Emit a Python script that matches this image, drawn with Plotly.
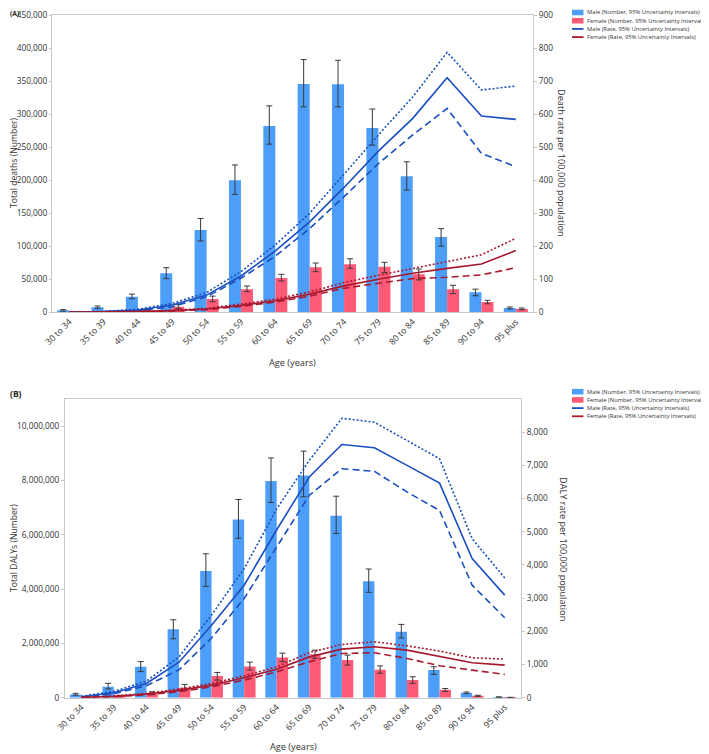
import plotly.graph_objects as go
from plotly.subplots import make_subplots

ages = ["30 to 34", "35 to 39", "40 to 44", "45 to 49", "50 to 54", "55 to 59", "60 to 64",
        "65 to 69", "70 to 74", "75 to 79", "80 to 84", "85 to 89", "90 to 94", "95 plus"]

# ---------- Panel A: deaths ----------
deaths_male = [3000, 7500, 23700, 59000, 124500, 199800, 282000, 345500, 345000, 279000, 206000, 114000, 30300, 6500]
deaths_male_hi = [4000, 9500, 27500, 67500, 142000, 223000, 312500, 382500, 381500, 307700, 227800, 126700, 35000, 8000]
deaths_male_lo = [1800, 6000, 20500, 51000, 108000, 178500, 254500, 311000, 311000, 253000, 185000, 100000, 25000, 5000]
deaths_female = [500, 1200, 3500, 8500, 20000, 34800, 52000, 68000, 72600, 69000, 57500, 34800, 15600, 5000]
deaths_female_hi = [800, 1800, 4500, 11600, 24500, 39800, 57500, 74600, 81000, 75600, 65500, 40800, 18200, 6500]
deaths_female_lo = [300, 800, 2500, 6000, 16000, 31200, 47400, 61500, 66600, 60000, 49000, 28200, 12900, 4000]

drate_male = [0.5, 2, 7, 22, 52, 110, 186, 274, 378, 488, 587, 710, 594, 584]
drate_male_hi = [0.6, 2.5, 9, 27, 60, 123, 204, 300, 418, 537, 652, 787, 673, 685]
drate_male_lo = [0.4, 1.5, 5, 17, 47, 103, 170, 254, 350, 450, 537, 617, 481, 441]
drate_female = [0.2, 0.6, 2, 5, 10, 21, 35, 55, 80, 100, 118, 133, 146, 187]
drate_female_hi = [0.3, 0.8, 2.5, 6, 12, 25, 40, 62, 90, 112, 133, 153, 174, 224]
drate_female_lo = [0.15, 0.4, 1.5, 4, 8, 18, 31, 49, 73, 88, 102, 106, 113, 135]

# ---------- Panel B: DALYs ----------
dalys_male = [120000, 400000, 1140000, 2520000, 4670000, 6560000, 7980000, 8180000, 6700000, 4290000, 2430000, 1020000, 180000, 20000]
dalys_male_hi = [160000, 530000, 1330000, 2870000, 5300000, 7300000, 8830000, 9080000, 7420000, 4740000, 2700000, 1140000, 210000, 30000]
dalys_male_lo = [90000, 320000, 960000, 2170000, 4100000, 5870000, 7190000, 7400000, 6050000, 3880000, 2200000, 860000, 150000, 15000]
dalys_female = [20000, 60000, 160000, 370000, 800000, 1150000, 1480000, 1600000, 1390000, 1030000, 650000, 290000, 70000, 10000]
dalys_female_hi = [30000, 90000, 220000, 490000, 930000, 1310000, 1640000, 1750000, 1570000, 1170000, 770000, 340000, 90000, 15000]
dalys_female_lo = [10000, 40000, 110000, 270000, 650000, 1020000, 1330000, 1450000, 1200000, 900000, 530000, 230000, 50000, 5000]

drb_male = [30, 150, 430, 1070, 2185, 3390, 5060, 6650, 7630, 7530, 7000, 6466, 4190, 3090]
drb_male_hi = [40, 190, 500, 1230, 2490, 3890, 5690, 7150, 8420, 8300, 7750, 7200, 4790, 3610]
drb_male_lo = [20, 120, 360, 840, 1800, 2990, 4540, 6100, 6900, 6820, 6200, 5640, 3390, 2410]
drb_female = [8, 40, 110, 220, 380, 600, 860, 1230, 1464, 1534, 1434, 1233, 1053, 982]
drb_female_hi = [10, 50, 130, 260, 430, 660, 930, 1360, 1604, 1684, 1564, 1404, 1203, 1163]
drb_female_lo = [5, 30, 90, 180, 330, 530, 780, 1080, 1333, 1353, 1183, 962, 832, 702]

legend_labels = ["Male (Number, 95% Uncertainty Intervals)",
                 "Female (Number, 95% Uncertainty Intervals)",
                 "Male (Rate, 95% Uncertainty Intervals)",
                 "Female (Rate, 95% Uncertainty Intervals)"]

C_MB = "#4C9EF8"
C_FB = "#FF5A76"
C_ML = "#1A4FBF"
C_FL = "#A8192E"
AX = "#c8c8c8"
TXT = "#333333"
FONT = "Open Sans"

# the page body has an 8px margin, so the figure is drawn 8px in from the window corner
OFF = 8
W, H = 709 - OFF, 754 - OFF
def X(p): return (p - OFF) / W
def Y(p): return 1 - (p - OFF) / H

fig = make_subplots(rows=2, cols=1, specs=[[{"secondary_y": True}], [{"secondary_y": True}]])

def err(v, hi, lo):
    return dict(type="data", symmetric=False,
                array=[h - a for a, h in zip(v, hi)],
                arrayminus=[a - l for a, l in zip(v, lo)],
                color="#3a3a3a", thickness=1, width=3)

def add_panel(row, mb, mbh, mbl, fb, fbh, fbl, mr, mrh, mrl, fr, frh, frl):
    fig.add_trace(go.Bar(x=ages, y=mb, marker_color=C_MB, marker_line_width=0,
                         error_y=err(mb, mbh, mbl), showlegend=False), row=row, col=1, secondary_y=False)
    fig.add_trace(go.Bar(x=ages, y=fb, marker_color=C_FB, marker_line_width=0,
                         error_y=err(fb, fbh, fbl), showlegend=False), row=row, col=1, secondary_y=False)
    for (vals, col, dash) in ((mrh, C_ML, "2px,2px"), (mr, C_ML, "solid"), (mrl, C_ML, "7px,4px"),
                              (frh, C_FL, "2px,2px"), (fr, C_FL, "solid"), (frl, C_FL, "7px,4px")):
        fig.add_trace(go.Scatter(x=ages, y=vals, mode="lines", showlegend=False,
                                 line=dict(color=col, width=1.6, dash=dash)),
                      row=row, col=1, secondary_y=True)

add_panel(1, deaths_male, deaths_male_hi, deaths_male_lo, deaths_female, deaths_female_hi, deaths_female_lo,
          drate_male, drate_male_hi, drate_male_lo, drate_female, drate_female_hi, drate_female_lo)
add_panel(2, dalys_male, dalys_male_hi, dalys_male_lo, dalys_female, dalys_female_hi, dalys_female_lo,
          drb_male, drb_male_hi, drb_male_lo, drb_female, drb_female_hi, drb_female_lo)

tickfont = dict(family=FONT, size=8.3, color=TXT)
xtickfont = dict(family=FONT, size=8.7, color=TXT)
common_x = dict(showline=True, linecolor=AX, linewidth=1, mirror=True, tickangle=-45,
                showgrid=False, zeroline=False, ticks="", tickfont=xtickfont, automargin=False)
common_y = dict(showline=True, linecolor=AX, linewidth=1, showgrid=False, zeroline=False,
                ticks="outside", ticklen=3, tickcolor=AX, tickfont=tickfont, automargin=False)

fig.update_layout(
    width=W, height=H, template="none",
    margin=dict(l=0, r=0, t=0, b=0),
    paper_bgcolor="white", plot_bgcolor="white",
    barmode="group", bargap=0.3, bargroupgap=0,
    font=dict(family=FONT, color=TXT),
    xaxis=dict(common_x, domain=[X(52), X(533)]),
    yaxis=dict(common_y, domain=[Y(312.3), Y(15)], range=[0, 450000], ticklen=2,
               tickvals=list(range(0, 450001, 50000)), tickformat=","),
    yaxis2=dict(common_y, range=[0, 900], tickvals=list(range(0, 901, 100)), side="right"),
    xaxis2=dict(common_x, domain=[X(65), X(521)]),
    yaxis3=dict(common_y, domain=[Y(697.7), Y(399)], range=[0, 11000000],
                tickvals=list(range(0, 10000001, 2000000)), tickformat=","),
    yaxis4=dict(common_y, range=[0, 9000], tickvals=list(range(0, 8001, 1000)), tickformat=",", side="right"),
)

ann = []
def txt(x, y, s, size=9.2, angle=0, xa="center", ya="middle", bold=False):
    ann.append(dict(x=X(x), y=Y(y), xref="paper", yref="paper", text=("<b>%s</b>" % s) if bold else s,
                    showarrow=False, textangle=angle, xanchor=xa, yanchor=ya,
                    font=dict(family=FONT, size=size, color="#222" if bold else TXT)))

txt(8, 7, "(A)", size=6.8, xa="left", ya="top", bold=True)
txt(8, 386, "(B)", size=8.5, xa="left", ya="top", bold=True)
txt(14, 163, "Total deaths (Number)", size=8.6, angle=-90)
txt(562, 163, "Death rate per 100,000 population", angle=90)
txt(292.5, 362, "Age (years)")
txt(14, 548, "Total DALYs (Number)", size=8.6, angle=-90)
txt(564, 549, "DALY rate per 100,000 population", angle=90)
txt(293, 746, "Age (years)")

shapes = []
def legend(y0):
    rows = [y0, y0 + 8.2, y0 + 16.4, y0 + 24.6]
    cols = [C_MB, C_FB, C_ML, C_FL]
    for i, (ry, c, lab) in enumerate(zip(rows, cols, legend_labels)):
        if i < 2:
            shapes.append(dict(type="rect", xref="paper", yref="paper", x0=X(572), x1=X(583.5),
                               y0=Y(ry + 2.8), y1=Y(ry - 2.8), fillcolor=c, line=dict(width=0)))
        else:
            shapes.append(dict(type="line", xref="paper", yref="paper", x0=X(572), x1=X(583.5),
                               y0=Y(ry), y1=Y(ry), line=dict(color=c, width=1.8)))
        txt(584.5, ry, lab, size=5.8, xa="left")

legend(12.5)
legend(391.7)

fig.update_layout(annotations=ann, shapes=shapes)
fig.write_html("out.html")
